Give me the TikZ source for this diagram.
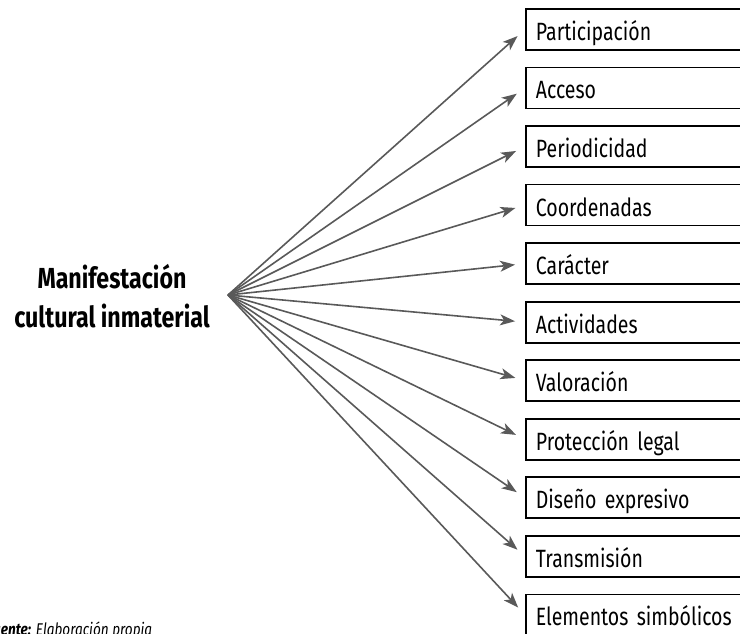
\documentclass[tikz,border=0pt]{standalone}
\usepackage{fontspec}
\setmainfont{Fira Sans}[FakeStretch=0.8]
\newfontfamily\boxfont{Fira Sans}[FakeStretch=0.78]
\newcommand\myboxsetup{\boxfont\fontsize{25}{28}\selectfont\spaceskip=5pt plus 1pt minus 1pt\relax}
\usetikzlibrary{arrows.meta}
\definecolor{arrowgray}{HTML}{595959}
\tikzset{
  box/.style={draw=black, line width=1.8pt, anchor=north west, minimum height=41pt,
    text width=215pt, inner xsep=10pt, inner ysep=0pt, align=left,
    font=\myboxsetup, text height=27pt, text depth=5pt},
  conn/.style={draw=arrowgray, line width=1.6pt,
    -{Stealth[length=15pt,width=11pt,inset=4pt]}, shorten >=10pt},
  titletext/.style={anchor=base, inner sep=0pt, font=\fontsize{29}{32}\selectfont\bfseries},
  srctext/.style={anchor=base west, inner sep=0pt, font=\fontsize{17}{19}\selectfont\itshape}
}
\begin{document}
\begin{tikzpicture}[x=1pt,y=-1pt]
\useasboundingbox (0,0) rectangle (740,633);
\clip (0,0) rectangle (740,633);
\node[titletext] (t1) at (112,288) {Manifestación};
\node[titletext] (t2) at (112,327) {cultural inmaterial};
\coordinate (hub) at (228,295);
\foreach [count=\i from 0] \t in {Participación, Acceso, Periodicidad, Coordenadas, Carácter, Actividades, Valoración, Protección legal, Diseño expresivo, Transmisión, Elementos simbólicos}{
  \node[box] (b\i) at (525,{8+58.55*\i}) {\t};
  \draw[conn] (hub) -- (b\i.west);
}
\node[srctext] (src) at (-13,635) {\textbf{Fuente:} Elaboración propia};
\end{tikzpicture}
\end{document}
